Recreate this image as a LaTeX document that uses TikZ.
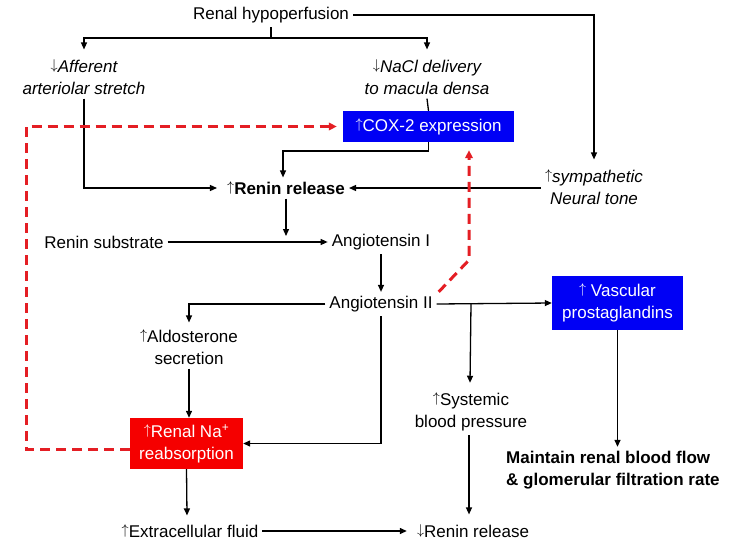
\documentclass[tikz,border=0pt]{standalone}
\usepackage{fontspec}
\setmainfont{Liberation Sans}
\usetikzlibrary{arrows.meta,calc}
\definecolor{boxblue}{RGB}{0,0,245}
\definecolor{boxred}{RGB}{245,0,0}
\definecolor{dashred}{RGB}{228,30,36}
\newcommand\uparr{\raisebox{0.16em}{\scalebox{0.82}{$\uparrow$}}}
\newcommand\dnarr{\raisebox{0.16em}{\scalebox{0.82}{$\downarrow$}}}
\tikzset{
  txt/.style={inner sep=4pt, align=center, font=\fontsize{17}{22}\selectfont},
  itxt/.style={txt, font=\fontsize{17}{22}\selectfont\itshape},
  btxt/.style={txt, font=\fontsize{17}{22}\selectfont\bfseries},
  bluebox/.style={txt, fill=boxblue, text=white, minimum width=171pt, minimum height=31pt, inner sep=0pt},
  redbox/.style={txt, fill=boxred, text=white, inner sep=0pt},
  conn/.style={line width=1.3pt, black},
  arr/.style={conn, -{Triangle[length=7pt,width=6pt]}},
  reddash/.style={line width=3pt, dashred, dash pattern=on 10pt off 6pt, -{Triangle[length=8pt,width=7.5pt]}},
}
\begin{document}
\begin{tikzpicture}[x=1pt,y=-1pt]
\useasboundingbox (0,0) rectangle (733,549);
\node[txt] (hypo) at (271,15) {Renal hypoperfusion};
\node[itxt] (aff) at (84,77) {\dnarr Afferent\\arteriolar stretch};
\node[itxt] (nacl) at (427,77) {\dnarr NaCl delivery\\to macula densa};
\node[bluebox] (cox) at (428.5,126.5) {\uparr COX-2 expression};
\node[btxt] (renin) at (286,188) {\uparr Renin release};
\node[itxt] (symp) at (594,187) {\uparr sympathetic\\Neural tone};
\node[txt] (subst) at (104,242) {Renin substrate};
\node[txt] (angI) at (381,242) {Angiotensin I};
\node[txt] (angII) at (381,304) {Angiotensin II};
\node[txt] (aldo) at (189,347) {\uparr Aldosterone\\secretion};
\node[redbox, minimum width=113pt, minimum height=51pt] (nabox) at (186.5,443.5) {\uparr Renal Na\textsuperscript{+}\\reabsorption};
\node[bluebox, minimum width=131pt, minimum height=54pt] (vasc) at (617.5,303) {\uparr\ Vascular\\prostaglandins};
\node[txt] (sysbp) at (471,412) {\uparr Systemic\\blood pressure};
\node[btxt, align=left, anchor=west] (maint) at (502,470) {Maintain renal blood flow\\\& glomerular filtration rate};
\node[txt] (ecf) at (190,531) {\uparr Extracellular fluid};
\node[txt] (renin2) at (473,531) {\dnarr Renin release};

\coordinate (split) at (271,38);
\coordinate (coxturn) at (428.5,151);
\coordinate (dl) at (26,449);
\coordinate (bend) at (469,260);

\draw[arr] (hypo.east) -| ($(symp.north)+(0,-6)$);
\draw[conn] (hypo.south) -- (split);
\draw[arr] (split) -| ($(aff.north)+(0,-6)$);
\draw[arr] (split) -| ($(nacl.north)+(0,-6)$);
\draw[arr] (aff.south) |- ($(renin.west)+(-6,0)$);
\draw[conn] (nacl.south) -- (cox.north);
\draw[arr] (cox.south) -- (coxturn) -| ($(renin.north)+(-3,0)$);
\draw[arr] (symp.west |- renin.east) -- (renin.east);
\draw[arr] (renin.south) -- ($(renin.south |- subst.east)+(0,-6)$);
\draw[arr] (subst.east) -- (angI.west);
\draw[arr] (angI.south) -- (angII.north);
\draw[arr] (angII.west) -| ($(aldo.north)+(0,-3)$);
\draw[arr] (aldo.south) -- (aldo.south |- nabox.north);
\draw[arr] (angII.south) |- (nabox.east);
\draw[arr] (angII.east) -- (vasc.west);
\draw[arr] (sysbp.north |- angII.east) -- ($(sysbp.north)+(-1,-6)$);
\draw[arr] (vasc.south) -- (vasc.south |- maint.north);
\draw[arr] (nabox.south) -- ($(ecf.north)+(-3,-5)$);
\draw[arr] ($(sysbp.south)+(-2,0)$) -- ($(sysbp.south |- renin2.north)+(-2,-6)$);
\draw[arr] (ecf.east) -- ($(renin2.west)+(-6,0)$);

\draw[reddash] (nabox.west |- dl) -- (dl) |- ($(cox.west)+(-6,0)$);
\draw[reddash] ($(angII.north east)+(2,0)$) -- (bend) -- ($(cox.south -| bend)+(0,8)$);
\end{tikzpicture}
\end{document}
